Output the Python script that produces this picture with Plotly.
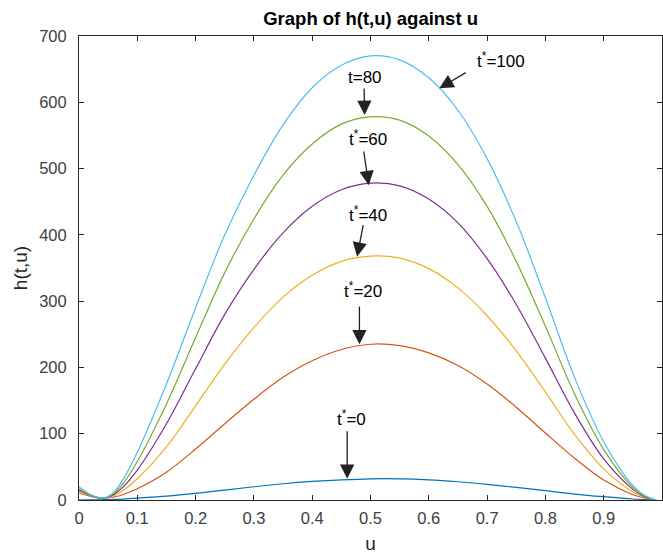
import plotly.graph_objects as go

# Sample positions along u
u = [0, 0.01, 0.02, 0.03, 0.04, 0.05, 0.06, 0.075, 0.1, 0.15, 0.2, 0.25, 0.3, 0.35, 0.4, 0.45,
     0.5, 0.55, 0.6, 0.65, 0.7, 0.75, 0.8, 0.85, 0.9, 0.95, 0.97, 0.99]

# h(t,u) for each t*
h_t0 = [0, 0.1, 0.2, 0.3, 0.5, 0.7, 0.9, 1.4, 2.8, 5.8, 10, 15, 20, 24.5, 28, 30.5,
        32, 32, 30.5, 27.5, 23.5, 19, 14, 9, 5, 1.5, 0.6, 0]
h_t20 = [11, 8, 5.5, 3.5, 2.5, 3, 4.5, 8, 17, 42, 77, 115, 152, 185, 210, 227,
         235, 233, 222, 203, 175, 140, 101, 63, 30, 8, 3, 0]
h_t40 = [13, 9.5, 6.5, 4, 2.8, 3.8, 6.5, 14, 32, 80, 142, 205, 260, 306, 339, 360,
         368, 365, 349, 320, 278, 225, 163, 99, 47, 12, 4, 0]
h_t60 = [15, 11, 7, 4, 3, 4.5, 8.5, 19, 45, 115, 198, 280, 348, 403, 443, 468,
         478, 474, 454, 418, 364, 295, 214, 131, 62, 16, 5, 0]
h_t80 = [17, 12, 7.5, 4.5, 3, 5, 10, 24, 58, 145, 245, 343, 424, 490, 537, 567,
         578, 573, 549, 506, 443, 360, 262, 160, 76, 19, 6, 0]
h_t100 = [20, 13.5, 8, 4.5, 3, 5.5, 12, 30, 72, 175, 290, 400, 490, 566, 622, 656,
          670, 664, 637, 588, 515, 420, 305, 185, 88, 22, 7, 0]

series = [h_t0, h_t20, h_t40, h_t60, h_t80, h_t100]
colors = ["#0072BD", "#D95319", "#EDB120", "#7E2F8E", "#77AC30", "#4DBEEE"]

x_ticks = [0, 0.1, 0.2, 0.3, 0.4, 0.5, 0.6, 0.7, 0.8, 0.9, 1]
y_ticks = [0, 100, 200, 300, 400, 500, 600, 700]

# Curve labels: text, text position, arrow tail, arrow tip (data units)
labels = [
    ("t<sup>*</sup>=100", 0.724, 664, 0.666, 646, 0.618, 621),
    ("t=80", 0.490, 638, 0.489, 623, 0.490, 581),
    ("t<sup>*</sup>=60", 0.495, 546, 0.488, 528, 0.497, 475),
    ("t<sup>*</sup>=40", 0.495, 432, 0.488, 417, 0.477, 367),
    ("t<sup>*</sup>=20", 0.487, 317, 0.481, 294, 0.481, 235),
    ("t<sup>*</sup>=0", 0.467, 123, 0.460, 106, 0.460, 32),
]

FONT = "Liberation Sans, Arial, sans-serif"

fig = go.Figure()
for ys, c in zip(series, colors):
    fig.add_trace(go.Scatter(x=u, y=ys, mode="lines",
                             line=dict(color=c, width=1.2, shape="spline", smoothing=1.0),
                             showlegend=False, hoverinfo="skip"))

for text, tx, ty, ax, ay, hx, hy in labels:
    fig.add_annotation(x=tx, y=ty, xref="x", yref="y", text=text, showarrow=False,
                       font=dict(family=FONT, size=17, color="#000000"))
    fig.add_annotation(x=hx, y=hy, ax=ax, ay=ay, xref="x", yref="y", axref="x", ayref="y",
                       text="", showarrow=True, arrowhead=2, arrowsize=2.2, arrowwidth=1.3,
                       arrowcolor="#222222")

axis_common = dict(
    showline=True, linecolor="#262626", linewidth=1, mirror="ticks",
    ticks="inside", ticklen=5, tickcolor="#262626", tickwidth=1,
    showgrid=False, zeroline=False,
    tickfont=dict(family=FONT, size=16.5, color="#404040"),
)

fig.update_layout(
    width=663, height=555,
    margin=dict(l=79, r=1, t=36, b=55),
    paper_bgcolor="white", plot_bgcolor="white",
    title=dict(text="<b>Graph of h(t,u) against u</b>", x=0.559, xanchor="center", y=0.967, yanchor="middle",
               font=dict(family=FONT, size=18.5, color="#000000")),
    xaxis=dict(range=[0, 1], tickvals=x_ticks, ticktext=[str(v) for v in x_ticks],
               ticklabelstandoff=3,
               title=dict(text="u", font=dict(family=FONT, size=19, color="#262626"), standoff=10),
               **axis_common),
    yaxis=dict(range=[0, 700], tickvals=y_ticks, ticklabelstandoff=8,
               title=dict(text="h(t,u)", font=dict(family=FONT, size=19, color="#262626"), standoff=6),
               **axis_common),
)

fig.write_html("out.html")
